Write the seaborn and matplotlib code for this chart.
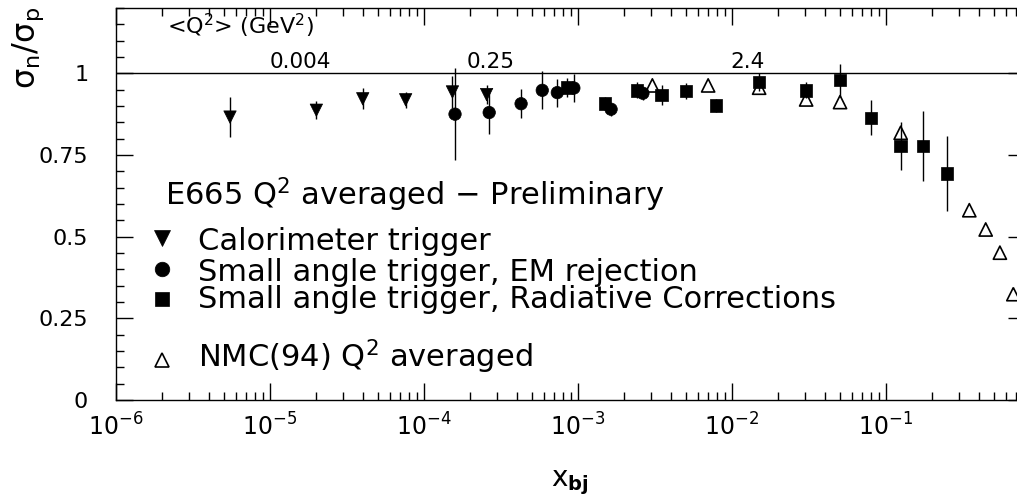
import numpy as np
import pandas as pd
import matplotlib
matplotlib.use("Agg")
import matplotlib.pyplot as plt
import seaborn as sns
from matplotlib.ticker import LogLocator, MultipleLocator, FixedLocator, NullFormatter, FixedFormatter

# ---------------- data ----------------
calo_x = [5.5e-6, 2.0e-5, 4.0e-5, 7.6e-5, 1.53e-4, 2.55e-4]
calo_y = [0.866, 0.887, 0.922, 0.919, 0.943, 0.935]
calo_e = [0.062, 0.028, 0.032, 0.025, 0.05, 0.03]

em_x = [1.59e-4, 2.65e-4, 4.27e-4, 5.86e-4, 7.34e-4, 9.4e-4, 1.64e-3, 2.64e-3]
em_y = [0.875, 0.880, 0.907, 0.948, 0.941, 0.955, 0.890, 0.939]
em_e = [0.14, 0.067, 0.045, 0.058, 0.043, 0.042, 0.02, 0.02]

rad_x = [8.5e-4, 1.5e-3, 2.42e-3, 3.49e-3, 5.02e-3, 7.87e-3, 1.5e-2, 3.03e-2,
         5.03e-2, 8.0e-2, 0.1245, 0.1745, 0.25]
rad_y = [0.957, 0.908, 0.948, 0.933, 0.946, 0.902, 0.973, 0.948,
         0.979, 0.864, 0.777, 0.777, 0.693]
rad_e = [0.03, 0.02, 0.025, 0.03, 0.025, 0.02, 0.027, 0.025,
         0.05, 0.053, 0.074, 0.107, 0.115]

nmc_x = [3.04e-3, 7.0e-3, 1.5e-2, 3.03e-2, 5.03e-2, 0.1245, 0.3475, 0.444, 0.549, 0.671]
nmc_y = [0.963, 0.963, 0.956, 0.920, 0.912, 0.818, 0.581, 0.522, 0.451, 0.324]

yticks = [0, 0.25, 0.5, 0.75, 1]
ytick_labels = ["0", "0.25", "0.5", "0.75", "1"]

q2_labels = ["0.004", "0.25", "2.4"]

legend_title = "E665 Q$^2$ averaged $-$ Preliminary"
legend_labels = ["Calorimeter trigger",
                 "Small angle trigger, EM rejection",
                 "Small angle trigger, Radiative Corrections",
                 "NMC(94) Q$^2$ averaged"]

# ---------------- style ----------------
sns.set_theme(style="ticks")
plt.rcParams['font.family'] = ['DejaVu Sans']
plt.rcParams['mathtext.fontset'] = 'dejavusans'

W, H = 1017, 501
fig = plt.figure(figsize=(W / 100, H / 100), dpi=100)
fig.patch.set_facecolor("white")
ax = fig.add_axes([116 / W, 1 - 400 / H, (1025 - 116) / W, (400 - 8) / H])
ax.set_facecolor("white")

df = pd.concat([
    pd.DataFrame({"x": calo_x, "y": calo_y, "err": calo_e, "set": "calo"}),
    pd.DataFrame({"x": em_x, "y": em_y, "err": em_e, "set": "em"}),
    pd.DataFrame({"x": rad_x, "y": rad_y, "err": rad_e, "set": "rad"}),
], ignore_index=True)
nmc = pd.DataFrame({"x": nmc_x, "y": nmc_y})

ax.set_xscale("log")
ax.set_xlim(1e-6, 10 ** (-6 + (1025 - 116) / 154.0))
ax.set_ylim(0, 1.2)

ax.axhline(1.0, color="black", lw=1.0, zorder=1)

ax.errorbar(df["x"], df["y"], yerr=df["err"], fmt="none", ecolor="black",
            elinewidth=1.0, capsize=0, zorder=2)

sns.scatterplot(data=df, x="x", y="y", style="set",
                markers={"calo": "v", "em": "o", "rad": "s"},
                color="black", edgecolor="black", s=80, linewidth=0.5,
                legend=False, ax=ax, zorder=3)
sns.scatterplot(data=nmc, x="x", y="y", marker="^", s=90,
                facecolors="none", edgecolor="black", linewidth=1.2,
                legend=False, ax=ax, zorder=4)

# ---------------- axes / ticks ----------------
ax.set_xlabel("")
ax.set_ylabel("")
for sp in ax.spines.values():
    sp.set_visible(True)
    sp.set_linewidth(1.0)
    sp.set_color("black")

ax.xaxis.set_major_locator(LogLocator(base=10, numticks=10))
ax.xaxis.set_minor_locator(LogLocator(base=10, subs=np.arange(2, 10), numticks=20))
ax.xaxis.set_minor_formatter(NullFormatter())
ax.yaxis.set_major_locator(FixedLocator(yticks))
ax.yaxis.set_major_formatter(FixedFormatter(ytick_labels))
ax.yaxis.set_minor_locator(MultipleLocator(0.05))

ax.tick_params(which="both", direction="in", top=True, right=True,
               color="black", width=1.0)
ax.tick_params(which="major", length=12)
ax.tick_params(which="minor", length=6)
ax.tick_params(axis="x", which="major", labelsize=17, pad=10, labelcolor="black")
ax.tick_params(axis="y", which="major", labelsize=16, pad=20, labelcolor="black")
ax.grid(False)

# ---------------- texts ----------------
def fx(px):
    return px / W

def fy(py):
    return 1 - py / H

fig.text(fx(28), fy(48), r"σ$_\mathrm{n}$/σ$_\mathrm{p}$", rotation=90, fontsize=23,
         ha="center", va="center", color="black")
fig.text(fx(570), fy(483), r"$\mathrm{x}_{\mathbf{bj}}$", fontsize=20,
         ha="center", va="center", color="black")

fig.text(fx(167), fy(34), r"<Q$^2$> (GeV$^2$)", fontsize=16, ha="left",
         va="baseline", color="black")
for lab, px in zip(q2_labels, [270, 467, 730]):
    fig.text(fx(px), fy(68), lab, fontsize=15.5, ha="left", va="baseline", color="black")

fig.text(fx(165), fy(205), legend_title, fontsize=22, ha="left",
         va="baseline", color="black")
base_y = [250, 281, 308, 367]
mark_y = [238, 269, 299, 360]
mk = ["v", "o", "s", "^"]
fills = ["black", "black", "black", "none"]
sizes = [11, 10.5, 9.5, 10]
for lab, by, my, m, fc, ms in zip(legend_labels, base_y, mark_y, mk, fills, sizes):
    fig.text(fx(198), fy(by), lab, fontsize=22, ha="left", va="baseline", color="black")
    ax.plot([fx(162)], [fy(my)], marker=m, ms=ms, mfc=fc, mec="black",
            mew=1.2 if fc == "none" else 0.5, transform=fig.transFigure,
            clip_on=False, ls="none")

fig.savefig("out.png", dpi=100)
